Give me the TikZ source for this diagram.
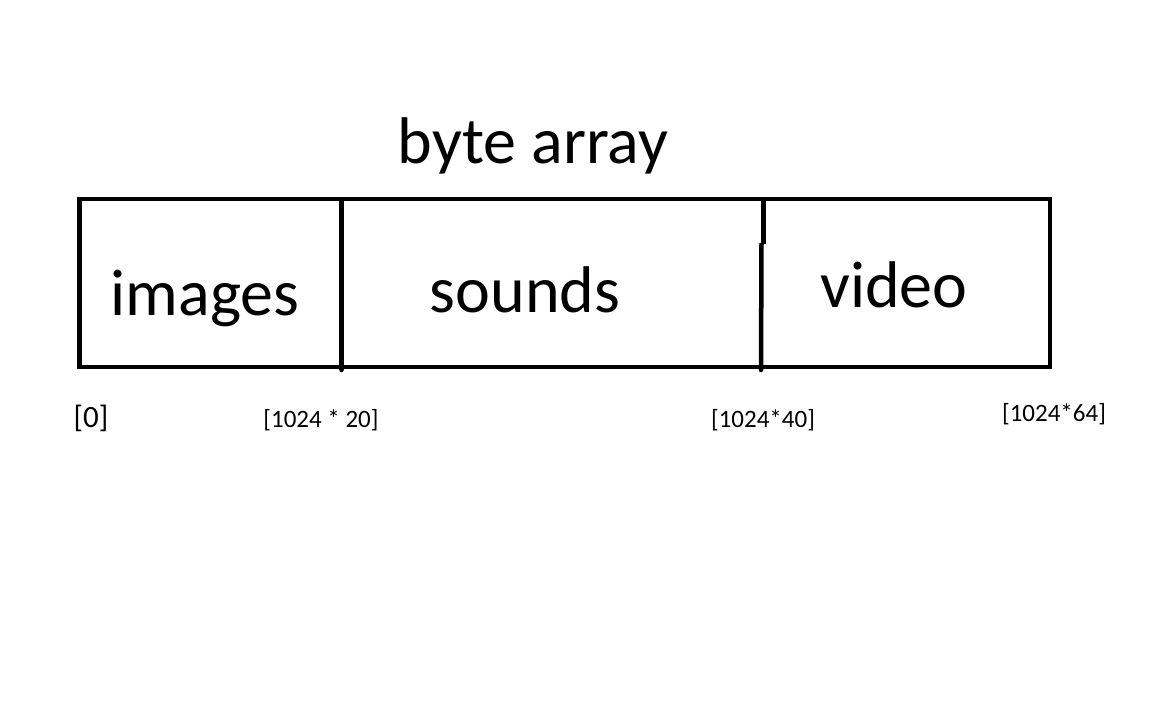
\documentclass[tikz,border=0pt]{standalone}
\usepackage{fontspec}
\setmainfont{Carlito}
\begin{document}
\begin{tikzpicture}[x=1pt,y=-1pt,
  frame/.style={line width=4.5pt},
  divider/.style={line width=4.5pt},
  bigtext/.style={anchor=base,inner sep=0pt,font=\fontsize{66}{70}\selectfont},
  offset/.style={anchor=base,inner sep=0pt,font=\fontsize{25}{28}\selectfont},
  zerolabel/.style={anchor=base,inner sep=0pt,font=\fontsize{31}{34}\selectfont}]
  \useasboundingbox (0,0) rectangle (1152,720);
  \fill[white] (0,0) rectangle (1152,720);

  % title
  \node[bigtext] (title) at (533,163) {byte array};

  % outer frame of the array
  \coordinate (nw) at (79.5,199);
  \coordinate (se) at (1050,367);
  \draw[frame] (nw) rectangle (se);

  % section boundaries (the second one is drawn in two slightly offset strokes)
  \coordinate (d1top) at (341.5,199);
  \coordinate (d1bot) at (341.5,370);
  \coordinate (d2top) at (763.5,199);
  \coordinate (d2mid) at (763.5,244);
  \coordinate (d2low) at (761.5,243);
  \coordinate (d2bot) at (761,370);
  \draw[divider] (d1top) -- (d1bot);
  \draw[divider] (d2top) -- (d2mid);
  \draw[divider] (d2low) -- (d2bot);
  \fill (d1bot) circle (2.25pt);
  \fill (d2bot) circle (2.25pt);

  % section names
  \node[bigtext] (images) at (205,315) {images};
  \node[bigtext] (sounds) at (525,312) {sounds};
  \node[bigtext] (video)  at (894,307) {video};

  % byte offsets
  \node[zerolabel] (o0)  at (91,427) {[0]};
  \node[offset] (o20) at (321,427) {[1024 * 20]};
  \node[offset] (o40) at (763,427) {[1024*40]};
  \node[offset] (o64) at (1054,421) {[1024*64]};
\end{tikzpicture}
\end{document}
